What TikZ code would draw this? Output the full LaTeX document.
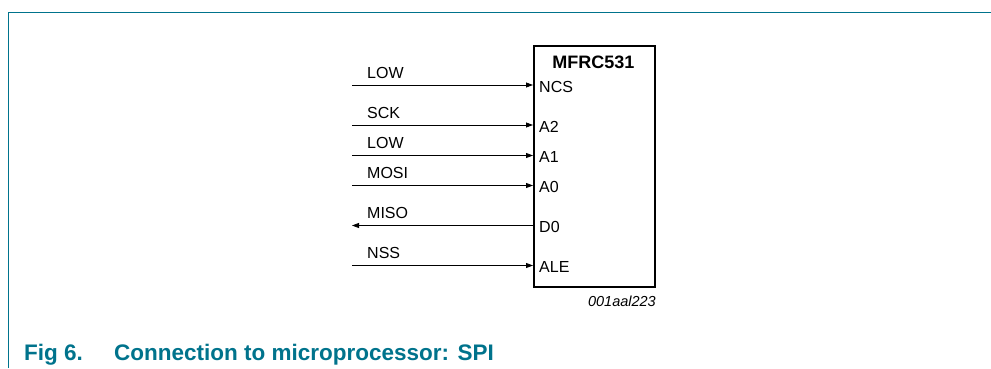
\documentclass[tikz,border=0pt]{standalone}
\usepackage{fontspec}
\setmainfont{Liberation Sans}
\usetikzlibrary{arrows.meta}
\definecolor{nxpteal}{RGB}{0,115,140}

\tikzset{
  siglabel/.style={anchor=base west,inner sep=0pt,font=\fontsize{16}{19}\selectfont},
  pinlabel/.style={anchor=base west,inner sep=0pt,font=\fontsize{16}{19}\selectfont},
  sigline/.style={line width=0.8pt,->}
}

\begin{document}
\begin{tikzpicture}[line cap=butt,line join=miter,>={Triangle[length=7pt,width=5pt]},x=1pt,y=-1pt]
			\useasboundingbox (0,0) rectangle (991,368);
			\draw[color=nxpteal,line width=1pt] (8,368) -- (8,12) -- (991,12);

			\node[draw,line width=2pt,anchor=north west,inner sep=0pt,minimum width=121pt,minimum height=241pt] (chip) at (533,45) {};
			\node[anchor=base,inner sep=0pt,font=\bfseries\fontsize{18}{21}\selectfont] (mfrc) at (593.5,68.5) {MFRC531};

			\coordinate (ncsin) at (352,85);
			\node[siglabel] (lowa) at (367,78) {LOW};
			\node[pinlabel] (ncs) at (539,92) {NCS};
			\draw[sigline] (ncsin) -- (ncsin -| chip.west);

			\coordinate (atwoin) at (352,125);
			\node[siglabel] (sck) at (367,118) {SCK};
			\node[pinlabel] (atwo) at (539,132) {A2};
			\draw[sigline] (atwoin) -- (atwoin -| chip.west);

			\coordinate (aonein) at (352,155.5);
			\node[siglabel] (lowb) at (367,148.5) {LOW};
			\node[pinlabel] (aone) at (539,162.5) {A1};
			\draw[sigline] (aonein) -- (aonein -| chip.west);

			\coordinate (azeroin) at (352,185.5);
			\node[siglabel] (mosi) at (367,178.5) {MOSI};
			\node[pinlabel] (azero) at (539,192.5) {A0};
			\draw[sigline] (azeroin) -- (azeroin -| chip.west);

			\coordinate (dzeroout) at (352,225.5);
			\node[siglabel] (miso) at (367,218.5) {MISO};
			\node[pinlabel] (dzero) at (539,232.5) {D0};
			\draw[sigline] (dzeroout -| chip.west) -- (dzeroout);

			\coordinate (alein) at (352,265.5);
			\node[siglabel] (nss) at (367,258.5) {NSS};
			\node[pinlabel] (ale) at (539,272.5) {ALE};
			\draw[sigline] (alein) -- (alein -| chip.west);

			\node[anchor=base east,inner sep=0pt,font=\itshape\fontsize{14.5}{17}\selectfont] (code) at (chip.east |- 0,306) {001aal223};

			\node[anchor=base west,inner sep=0pt,color=nxpteal,font=\bfseries\fontsize{22.5}{26}\selectfont] (fig) at (24,360) {Fig 6.};
			\node[anchor=base west,inner sep=0pt,color=nxpteal,font=\bfseries\fontsize{22.5}{26}\selectfont] (title) at (114,360) {Connection to microprocessor: SPI};
		\end{tikzpicture}
\end{document}
